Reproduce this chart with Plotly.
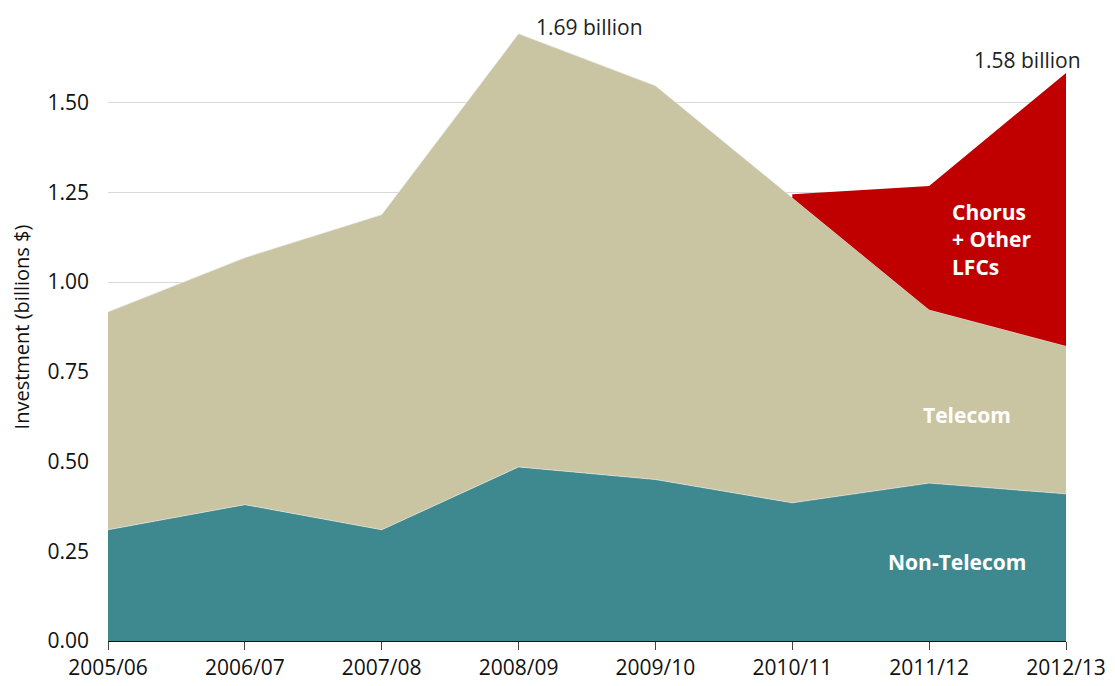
import plotly.graph_objects as go

years = ["2005/06", "2006/07", "2007/08", "2008/09", "2009/10", "2010/11", "2011/12", "2012/13"]
non_telecom = [0.31, 0.38, 0.31, 0.485, 0.45, 0.385, 0.44, 0.41]
telecom = [0.607, 0.688, 0.878, 1.207, 1.097, 0.85, 0.483, 0.412]
# Chorus + Other LFCs only from 2010/11 on
chorus_years = ["2010/11", "2011/12", "2012/13"]
chorus = [0.01, 0.345, 0.761]

xi = list(range(len(years)))
edge = dict(width=0.6, color="#e8e8e8")

fig = go.Figure()
fig.add_trace(go.Scatter(x=xi, y=non_telecom, stackgroup="a", mode="lines",
                         line=edge, fillcolor="#3e8990", name="Non-Telecom"))
fig.add_trace(go.Scatter(x=xi, y=telecom, stackgroup="a", mode="lines",
                         line=edge, fillcolor="#c9c5a3", name="Telecom"))

# red band sits on top of the telecom stack
cx = [years.index(y) for y in chorus_years]
base = [non_telecom[i] + telecom[i] for i in cx]
top = [b + c for b, c in zip(base, chorus)]
fig.add_trace(go.Scatter(x=cx + cx[::-1], y=top + base[::-1], mode="lines", fill="toself",
                         line=dict(width=0), fillcolor="#c00000", name="Chorus + Other LFCs"))

lab = dict(family="Open Sans", size=21, color="white")
fig.add_annotation(x=3.52, y=1.71, text="1.69 billion", showarrow=False, borderpad=0,
                   font=dict(family="Open Sans", size=21, color="#222"))
fig.add_annotation(x=6.72, y=1.62, text="1.58 billion", showarrow=False, borderpad=0,
                   font=dict(family="Open Sans", size=21, color="#222"))
fig.add_annotation(x=6.15, y=1.12, text="<b>Chorus<br>+ Other<br>LFCs</b>", showarrow=False,
                   xanchor="left", align="left", font=lab)
fig.add_annotation(x=6.28, y=0.63, text="<b>Telecom</b>", showarrow=False, font=lab)
fig.add_annotation(x=6.2, y=0.22, text="<b>Non-Telecom</b>", showarrow=False, font=lab)

fig.update_layout(
    width=1115, height=686, showlegend=False,
    plot_bgcolor="white", paper_bgcolor="white",
    margin=dict(l=100, r=57, t=5, b=53),
    font=dict(family="Open Sans", size=21, color="#111"),
    xaxis=dict(range=[0, 7], tickvals=xi, ticktext=years, showgrid=False, zeroline=False,
               showline=True, linecolor="#111", linewidth=1.2, ticks="outside", ticklen=8,
               tickcolor="#444"),
    yaxis=dict(range=[0, 1.75], tickvals=[0, 0.25, 0.5, 0.75, 1.0, 1.25, 1.5], tickformat=".2f",
               showgrid=True, gridcolor="#d9d9d9", zeroline=False, showline=False, ticks="",
               ticklabelstandoff=18,
               title=dict(text="Investment (billions $)", font=dict(size=20), standoff=12)),
)

fig.write_html("out.html")
